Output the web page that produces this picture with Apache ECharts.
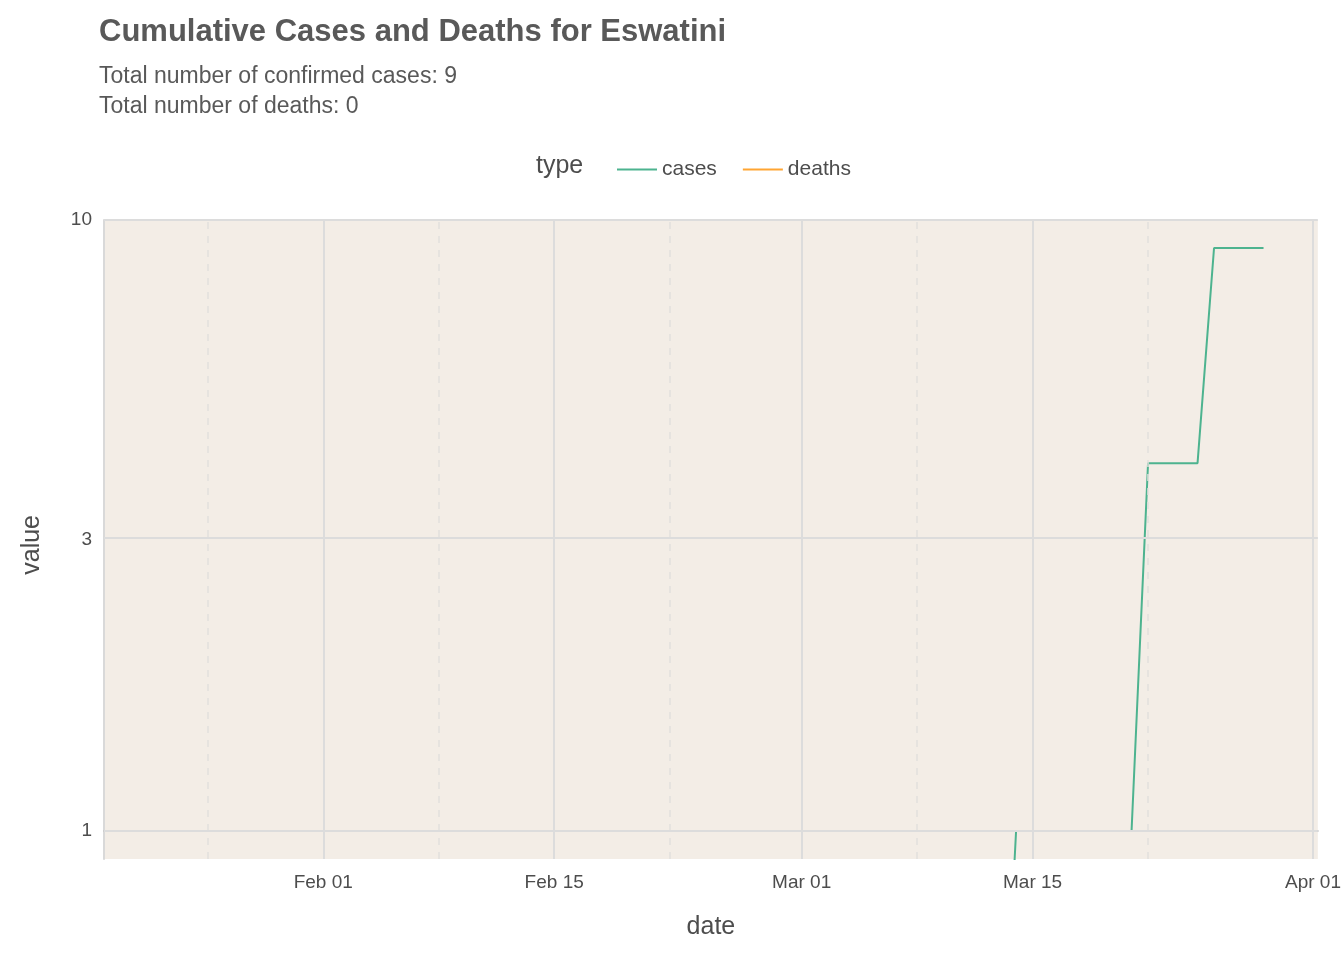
<!DOCTYPE html>
<html>
<head>
<meta charset="utf-8">
<script src="https://cdn.jsdelivr.net/npm/echarts@6/dist/echarts.min.js"></script>
<style>html,body{margin:0;padding:0;background:#fff}#main{width:1344px;height:960px}</style>
</head>
<body>
<div id="main"></div>
<script>
var startDate = '2020-01-22';
var cases = [
  0,0,0,0,0,0,0,0,0,0,
  0,0,0,0,0,0,0,0,0,0,0,0,0,0,0,0,0,0,0,0,0,0,0,0,0,0,0,0,0,
  0,0,0,0,0,0,0,0,0,0,0,0,0,1,1,1,1,1,1,1,1,4,4,4,4,9,9,9,9
];
var deaths = [
  0,0,0,0,0,0,0,0,0,0,
  0,0,0,0,0,0,0,0,0,0,0,0,0,0,0,0,0,0,0,0,0,0,0,0,0,0,0,0,0,
  0,0,0,0,0,0,0,0,0,0,0,0,0,0,0,0,0,0,0,0,0,0,0,0,0,0,0,0,0
];
var xMajor = ['2020-02-01', '2020-02-15', '2020-03-01', '2020-03-15', '2020-04-01'];
var xMinor = ['2020-01-25', '2020-02-08', '2020-02-22', '2020-03-08', '2020-03-22'];
var yTicks = [1, 3, 10];

var DAY = 86400000;
var t0 = Date.parse(startDate + 'T00:00:00Z');
function toLog(v) { return Math.log10(Math.max(v, 0.3)); }
function build(arr) {
  return arr.map(function (v, i) { return [t0 + i * DAY, toLog(v)]; });
}
function ts(s) { return Date.parse(s + 'T00:00:00Z'); }
var months = ['Jan','Feb','Mar','Apr','May'];
function fmtDate(v) {
  var d = new Date(v);
  var day = d.getUTCDate();
  return months[d.getUTCMonth()] + ' ' + (day < 10 ? '0' + day : day);
}

var gridLines = [];
xMajor.forEach(function (s) { gridLines.push({ xAxis: ts(s), lineStyle: { color: '#dcdcdc', width: 2, type: 'solid' } }); });
xMinor.forEach(function (s) { gridLines.push({ xAxis: ts(s), lineStyle: { color: '#e2e0dd', width: 1.5, type: [7, 7] } }); });
yTicks.forEach(function (v) { gridLines.push({ yAxis: Math.log10(v), lineStyle: { color: '#dcdcdc', width: 2, type: 'solid' } }); });

var chart = echarts.init(document.getElementById('main'));
var txt = '#4d4d4d';
chart.setOption({
  animation: false,
  title: {
    text: 'Cumulative Cases and Deaths for Eswatini',
    subtext: 'Total number of confirmed cases: 9\nTotal number of deaths: 0',
    left: 94, top: 12,
    textStyle: { fontFamily: 'Liberation Sans', fontSize: 31, fontWeight: 'bold', color: '#595959' },
    subtextStyle: { fontFamily: 'Liberation Sans', fontSize: 23, color: '#595959', lineHeight: 30 },
    itemGap: 14
  },
  legend: {
    left: 612, top: 154, itemWidth: 40, itemHeight: 24, itemGap: 26,
    icon: 'path://M0,11H40V13H0Z',
    textStyle: { fontFamily: 'Liberation Sans', fontSize: 21, color: txt },
    data: ['cases', 'deaths']
  },
  graphic: [
    { type: 'text', left: 536, top: 154, style: { text: 'type', font: '25px "Liberation Sans"', fill: txt } },
    { type: 'text', left: 20, top: 515, rotation: Math.PI / 2, style: { text: 'value', font: '25px "Liberation Sans"', fill: txt } }
  ],
  grid: { left: 104, right: 16, top: 220, bottom: 101, show: true, backgroundColor: '#f3ede6', borderWidth: 0 },
  xAxis: {
    type: 'value',
    min: ts('2020-01-18') + 17 * 3600000,
    max: ts('2020-04-01') + 7 * 3600000,
    name: 'date', nameLocation: 'middle', nameGap: 56,
    nameTextStyle: { fontFamily: 'Liberation Sans', fontSize: 25, color: txt },
    axisLine: { show: true, lineStyle: { color: '#c8c8c8', width: 2 } },
    axisTick: { show: false },
    splitLine: { show: false },
    axisLabel: {
      customValues: xMajor.map(ts),
      formatter: function (v) { return fmtDate(v); },
      fontFamily: 'Liberation Sans', fontSize: 19, color: txt, margin: 14
    }
  },
  yAxis: {
    type: 'value',
    min: Math.log10(0.9), max: 1,
    axisLine: { show: true, lineStyle: { color: '#d9d9d9', width: 2 } },
    axisTick: { show: false },
    splitLine: { show: false },
    axisLabel: {
      customValues: yTicks.map(function (v) { return Math.log10(v); }),
      formatter: function (v) { return String(Math.round(Math.pow(10, v))); },
      fontFamily: 'Liberation Sans', fontSize: 19, color: txt, margin: 12
    }
  },
  series: [
    {
      name: 'grid', type: 'line', data: [], silent: true, z: 1,
      markLine: { symbol: 'none', silent: true, label: { show: false }, data: gridLines }
    },
    {
      name: 'cases', type: 'line', data: build(cases), showSymbol: false, clip: true, z: 3,
      lineStyle: { color: '#4db38f', width: 2 }, itemStyle: { color: '#4db38f' }
    },
    {
      name: 'deaths', type: 'line', data: build(deaths), showSymbol: false, clip: true, z: 3,
      lineStyle: { color: '#ffa533', width: 2 }, itemStyle: { color: '#ffa533' }
    }
  ]
});
</script>
</body>
</html>
